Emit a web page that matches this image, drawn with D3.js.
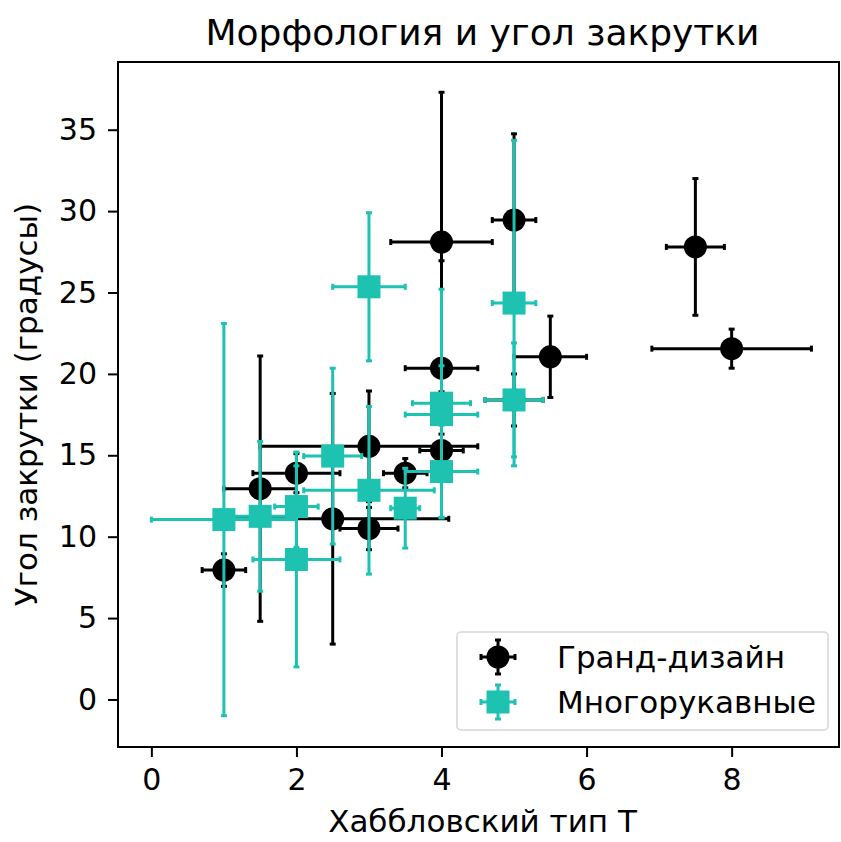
<!DOCTYPE html>
<html>
<head>
<meta charset="utf-8">
<script src="https://cdn.jsdelivr.net/npm/d3@7"></script>
<style>
body { margin: 0; background: #fff; }
text { font-family: "DejaVu Sans", sans-serif; }
</style>
</head>
<body>
<script>
// Гранд-дизайн: T, angle, errors
var gd_t    = [1, 1.5, 2, 2.5, 3, 3, 3.5, 4, 4, 4, 5, 5, 5.5, 7.5, 8];
var gd_ang  = [7.95, 12.95, 13.9, 11.1, 15.55, 10.5, 13.9, 15.3, 20.35, 28.1, 18.4, 29.45, 21.05, 27.8, 21.55];
var gd_terr = [0.3, 0.5, 0.6, 1.6, 1.5, 0.4, 0.3, 0.3, 0.5, 0.7, 0.4, 0.3, 0.5, 0.4, 1.1];
var gd_aerr = [1.0, 8.15, 1.2, 7.7, 3.4, 1.3, 0.9, 1.0, 6.6, 9.2, 1.6, 5.3, 2.5, 4.2, 1.2];

// Многорукавные
var ma_t    = [1, 1.5, 2, 2, 2.5, 3, 3, 3.5, 4, 4, 4, 5, 5];
var ma_ang  = [11.05, 11.25, 11.85, 8.6, 14.95, 12.85, 25.35, 11.75, 14.0, 17.5, 18.2, 24.35, 18.4];
var ma_terr = [1.0, 0.5, 0.3, 0.6, 0.4, 0.9, 0.5, 0.2, 0.5, 0.5, 0.4, 0.3, 0.4];
var ma_aerr = [12.05, 4.6, 2.5, 6.6, 5.4, 5.15, 4.55, 2.45, 2.85, 3.0, 7.0, 10.0, 3.5];

var xticks = [0, 2, 4, 6, 8];
var yticks = [0, 5, 10, 15, 20, 25, 30, 35];
var labels = ["Гранд-дизайн", "Многорукавные"];

var BLACK = "#000";
var TEAL = "#1dc2b0";

var W = 841, H = 842;
var L = 118, R = 839, T = 62, B = 747;

var svg = d3.select("body").append("svg")
    .attr("width", W)
    .attr("height", H);

var x = d3.scaleLinear().domain([-0.46, 9.48]).range([L, R]);
var y = d3.scaleLinear().domain([-2.92, 39.16]).range([B, T]);

// axes
var xa = svg.append("g").attr("transform", "translate(0," + B + ")")
    .call(d3.axisBottom(x).tickValues(xticks).tickSize(10).tickPadding(12).tickFormat(d3.format("d")));
var ya = svg.append("g").attr("transform", "translate(" + L + ",0)")
    .call(d3.axisLeft(y).tickValues(yticks).tickSize(10).tickPadding(11).tickFormat(d3.format("d")));
[xa, ya].forEach(function (a) {
    a.select(".domain").remove();
    a.selectAll(".tick line").attr("stroke", "#000").attr("stroke-width", 2);
    a.selectAll(".tick text").attr("fill", "#000").style("font-size", "30px")
        .style("font-family", "'DejaVu Sans', sans-serif");
});

function series(t, a, te, ae, col, shape) {
    var g = svg.append("g");
    var cap = 3;
    for (var i = 0; i < t.length; i++) {
        var cx = x(t[i]), cy = y(a[i]);
        var x0 = x(t[i] - te[i]), x1 = x(t[i] + te[i]);
        var y0 = y(a[i] - ae[i]), y1 = y(a[i] + ae[i]);
        g.append("line").attr("x1", x0).attr("x2", x1).attr("y1", cy).attr("y2", cy)
            .attr("stroke", col).attr("stroke-width", 3);
        g.append("line").attr("x1", cx).attr("x2", cx).attr("y1", y0).attr("y2", y1)
            .attr("stroke", col).attr("stroke-width", 3);
        [x0, x1].forEach(function (xx) {
            g.append("line").attr("x1", xx).attr("x2", xx).attr("y1", cy - cap).attr("y2", cy + cap)
                .attr("stroke", col).attr("stroke-width", 3);
        });
        [y0, y1].forEach(function (yy) {
            g.append("line").attr("x1", cx - cap).attr("x2", cx + cap).attr("y1", yy).attr("y2", yy)
                .attr("stroke", col).attr("stroke-width", 3);
        });
    }
    for (var j = 0; j < t.length; j++) {
        marker(g, x(t[j]), y(a[j]), col, shape);
    }
}

function marker(g, cx, cy, col, shape) {
    if (shape == "circle") {
        g.append("circle").attr("cx", cx).attr("cy", cy).attr("r", 11.5).attr("fill", col);
    } else {
        g.append("rect").attr("x", cx - 11.5).attr("y", cy - 11.5)
            .attr("width", 23).attr("height", 23).attr("fill", col);
    }
}

series(gd_t, gd_ang, gd_terr, gd_aerr, BLACK, "circle");
series(ma_t, ma_ang, ma_terr, ma_aerr, TEAL, "square");

// frame
svg.append("rect").attr("x", L).attr("y", T).attr("width", R - L).attr("height", B - T)
    .attr("fill", "none").attr("stroke", "#000").attr("stroke-width", 2);

// legend
var lg = svg.append("g");
lg.append("rect").attr("x", 457).attr("y", 632).attr("width", 371).attr("height", 98)
    .attr("rx", 4).attr("fill", "#fff").attr("fill-opacity", 0.8)
    .attr("stroke", "#d6d6d6").attr("stroke-width", 1.5);
[BLACK, TEAL].forEach(function (col, i) {
    var cx = 498, cy = 657 + i * 45;
    var s = 17;
    lg.append("line").attr("x1", cx - s).attr("x2", cx + s).attr("y1", cy).attr("y2", cy)
        .attr("stroke", col).attr("stroke-width", 3);
    lg.append("line").attr("x1", cx).attr("x2", cx).attr("y1", cy - s).attr("y2", cy + s)
        .attr("stroke", col).attr("stroke-width", 3);
    lg.append("line").attr("x1", cx - s).attr("x2", cx - s).attr("y1", cy - 3).attr("y2", cy + 3)
        .attr("stroke", col).attr("stroke-width", 3);
    lg.append("line").attr("x1", cx + s).attr("x2", cx + s).attr("y1", cy - 3).attr("y2", cy + 3)
        .attr("stroke", col).attr("stroke-width", 3);
    lg.append("line").attr("x1", cx - 3).attr("x2", cx + 3).attr("y1", cy - s).attr("y2", cy - s)
        .attr("stroke", col).attr("stroke-width", 3);
    lg.append("line").attr("x1", cx - 3).attr("x2", cx + 3).attr("y1", cy + s).attr("y2", cy + s)
        .attr("stroke", col).attr("stroke-width", 3);
    marker(lg, cx, cy, col, i == 0 ? "circle" : "square");
    lg.append("text").attr("x", 557).attr("y", cy + 11).style("font-size", "31px")
        .text(labels[i]);
});

// titles
svg.append("text").attr("x", (L + R) / 2 + 4).attr("y", 45).attr("text-anchor", "middle")
    .style("font-size", "36px").text("Морфология и угол закрутки");
svg.append("text").attr("x", (L + R) / 2 + 4).attr("y", 832).attr("text-anchor", "middle")
    .style("font-size", "31px").text("Хаббловский тип T");
svg.append("text").attr("transform", "translate(37," + (T + B) / 2 + ") rotate(-90)")
    .attr("text-anchor", "middle").style("font-size", "31px").text("Угол закрутки (градусы)");
</script>
</body>
</html>
